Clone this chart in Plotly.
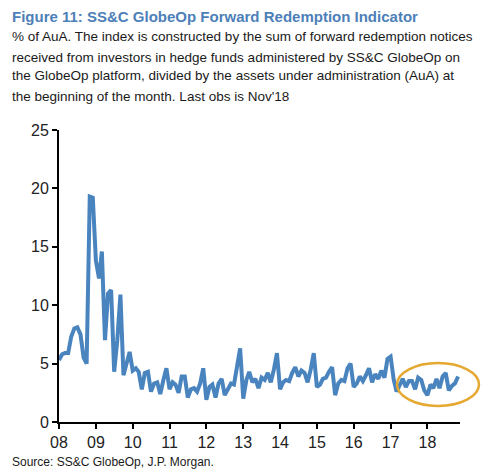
import plotly.graph_objects as go
import pandas as pd

# Monthly index values, Jan 2008 .. Nov 2018 (% of AuA)
values_2008 = [5.3, 5.8, 5.9, 5.9, 7.3, 8.0, 8.1, 7.5, 5.5, 5.0, 19.3, 19.2]
values_2009 = [13.8, 12.3, 14.6, 7.0, 11.0, 11.3, 4.3, 7.0, 10.9, 4.0, 5.0, 6.0]
values_2010 = [4.4, 4.6, 4.3, 2.8, 4.2, 4.3, 2.6, 3.3, 3.4, 2.4, 3.6, 4.6]
values_2011 = [2.8, 3.4, 3.2, 2.5, 3.9, 3.9, 2.1, 2.8, 2.9, 2.6, 3.3, 4.6]
values_2012 = [1.9, 3.0, 3.2, 2.1, 3.3, 3.7, 2.3, 2.8, 3.3, 3.2, 5.0, 6.3]
values_2013 = [2.0, 3.6, 4.3, 3.4, 3.7, 2.9, 3.8, 3.6, 4.2, 3.4, 4.5, 5.9]
values_2014 = [2.8, 3.4, 3.6, 3.5, 4.2, 4.7, 3.9, 4.4, 4.2, 3.4, 4.5, 5.9]
values_2015 = [3.0, 3.2, 3.7, 3.8, 4.3, 4.7, 2.3, 3.3, 3.6, 3.5, 4.6, 5.0]
values_2016 = [3.0, 3.3, 3.9, 3.5, 4.0, 4.6, 3.4, 4.1, 3.7, 4.4, 3.8, 5.4]
values_2017 = [5.6, 3.6, 2.6, 3.2, 3.7, 3.0, 3.5, 3.5, 2.8, 3.8, 3.6, 2.7]
values_2018 = [2.3, 3.2, 2.9, 3.7, 2.9, 3.9, 4.2, 2.7, 3.1, 3.3, 3.9]

values = (values_2008 + values_2009 + values_2010 + values_2011 + values_2012 +
          values_2013 + values_2014 + values_2015 + values_2016 + values_2017 +
          values_2018)
dates = pd.date_range("2008-01-01", periods=len(values), freq="MS")

tick_dates = [f"{y}-01-01" for y in range(2008, 2019)]
tick_labels = ["08", "09", "10", "11", "12", "13", "14", "15", "16", "17", "18"]
y_ticks = [0, 5, 10, 15, 20, 25]

title_text = "Figure 11: SS&C GlobeOp Forward Redemption Indicator"
subtitle_lines = [
    "% of AuA. The index is constructed by the sum of forward redemption notices",
    "received from investors in hedge funds administered by SS&C GlobeOp on",
    "the GlobeOp platform, divided by the assets under administration (AuA) at",
    "the beginning of the month. Last obs is Nov'18",
]
source_text = "Source: SS&C GlobeOp, J.P. Morgan."

# the page body adds an 8px offset; build the figure in reference pixel coords
OFF = 8
W, H = 500 - OFF, 473 - OFF
# plot area in reference pixels: x 59..460, y 130..422
L, R, T, B = 59 - OFF, W - (460 - OFF), 130 - OFF, H - (422 - OFF)
pw, ph = W - L - R, H - T - B

def px(x):
    return (x - OFF - L) / pw

def py(y):
    return (H - B - (y - OFF)) / ph

FONT = "Liberation Sans, Arial, sans-serif"

fig = go.Figure()
fig.add_trace(go.Scatter(
    x=dates, y=values, mode="lines",
    line=dict(color="#4a84bf", width=4),
    hoverinfo="skip", showlegend=False,
))

fig.update_layout(
    width=W, height=H,
    margin=dict(l=L, r=R, t=T, b=B, pad=0),
    paper_bgcolor="white", plot_bgcolor="white",
    font=dict(family=FONT, color="#222222"),
    xaxis=dict(
        range=["2008-01-01", "2018-11-20"],
        tickvals=tick_dates, ticktext=tick_labels,
        showgrid=False, zeroline=False,
        showline=True, linecolor="black", linewidth=2,
        ticks="outside", ticklen=5, tickwidth=1.5, tickcolor="black",
        tickfont=dict(size=16, color="#222222"),
    ),
    yaxis=dict(
        range=[0, 25], tickvals=y_ticks,
        showgrid=False, zeroline=False,
        showline=True, linecolor="black", linewidth=2,
        ticks="outside", ticklen=5, tickwidth=1.5, tickcolor="black",
        tickfont=dict(size=16, color="#222222"),
    ),
)

fig.add_annotation(
    text="<b>" + title_text.replace("&", "&amp;") + "</b>",
    xref="paper", yref="paper", x=px(10), y=py(17),
    xanchor="left", yanchor="middle", align="left", showarrow=False,
    font=dict(size=15, color="#4d7fb8"),
)

line_y = [37, 57, 76, 96]
for s, yy in zip(subtitle_lines, line_y):
    fig.add_annotation(
        text=s.replace("&", "&amp;"),
        xref="paper", yref="paper", x=px(10), y=py(yy),
        xanchor="left", yanchor="middle", align="left", showarrow=False,
        font=dict(size=13.5, color="#1a1a1a"),
    )
fig.add_annotation(
    text=source_text.replace("&", "&amp;"),
    xref="paper", yref="paper", x=px(10), y=py(462),
    xanchor="left", yanchor="middle", align="left", showarrow=False,
    font=dict(size=12, color="#1a1a1a"),
)

fig.add_shape(
    type="circle", xref="paper", yref="paper",
    x0=px(397), x1=px(479), y0=py(406), y1=py(363),
    line=dict(color="#e5a831", width=2.5),
)

fig.write_html("out.html")
